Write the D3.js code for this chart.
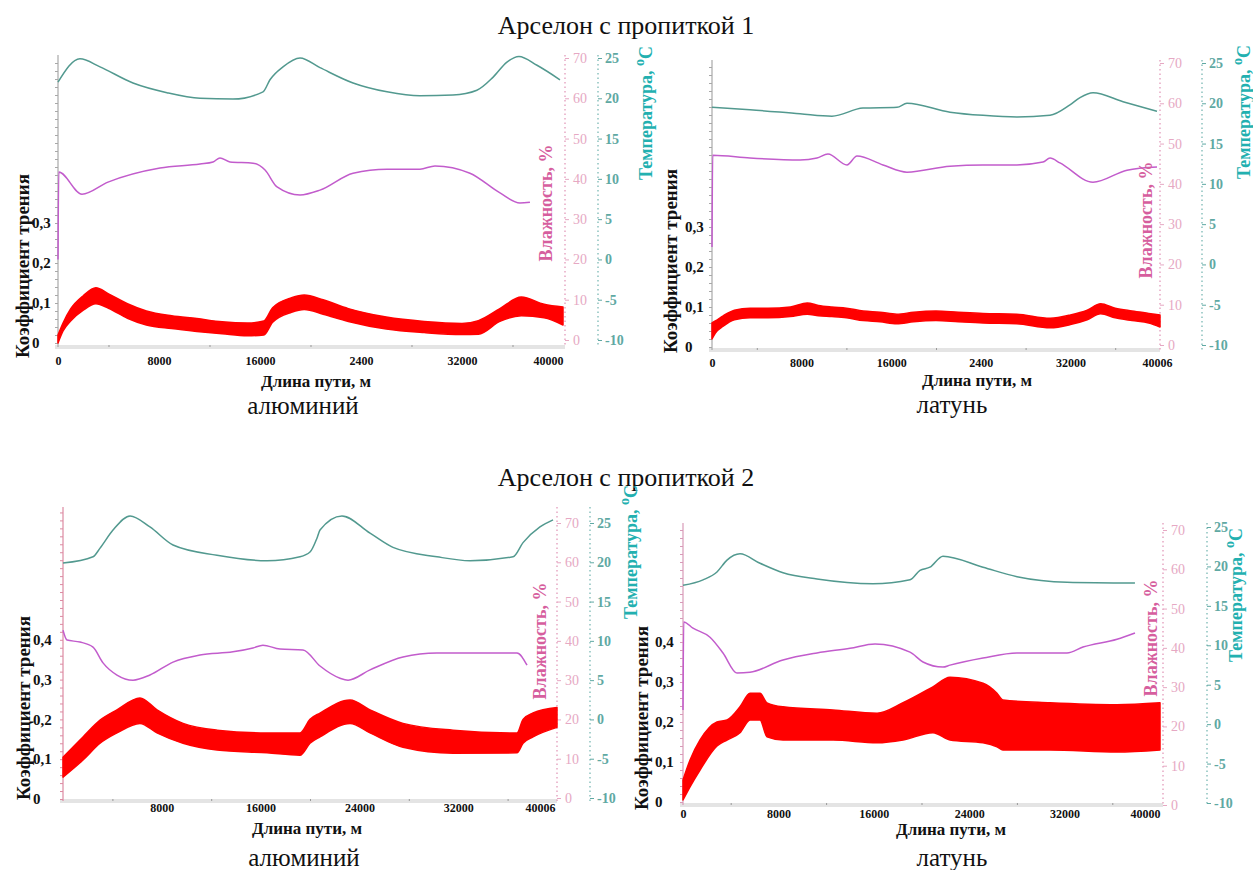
<!DOCTYPE html>
<html><head><meta charset="utf-8">
<script src="https://cdn.jsdelivr.net/npm/d3@7"></script>
<style>body{margin:0;background:#fff}svg{display:block}</style>
</head><body>
<svg id="c" width="1253" height="870"></svg>
<script>
// ---------- common ticks ----------
const distTicks = [0, 8000, 16000, 24000, 32000, 40000];
const distLabels1 = ["0", "8000", "16000", "2400", "32000", "40000"];
const distLabels2 = ["0", "8000", "16000", "2400", "32000", "40006"];
const distLabels3 = ["", "8000", "16000", "24000", "32000", "40006"];
const distLabels4 = ["0", "8000", "16000", "24000", "32000", "40000"];
const frictionTicksA = [0, 0.1, 0.2, 0.3];
const frictionTicksB = [0, 0.1, 0.2, 0.3, 0.4];
const humidityTicks = [0, 10, 20, 30, 40, 50, 60, 70];
const temperatureTicks = [-10, -5, 0, 5, 10, 15, 20, 25];

// ---------- Panel 1: пропитка 1, алюминий ----------
const a1TempDist = [0, 1740, 3330, 5940, 8630, 11250, 13860, 16240, 16790, 17820, 19170, 20750, 23370, 26060, 28670, 31280, 33180, 34450, 35560, 36510, 37940, 39760];
const a1Temp = [22.0, 24.9, 23.9, 21.9, 20.7, 20.0, 19.9, 20.8, 22.3, 23.9, 25.0, 23.8, 21.9, 20.8, 20.3, 20.4, 21.0, 22.6, 24.5, 25.2, 24.1, 22.3];
const a1HumDist = [0, 60, 1900, 3960, 8080, 11250, 12280, 12830, 13620, 15450, 16400, 17350, 19170, 20750, 23370, 26060, 28670, 29860, 32630, 35010, 36590, 37380];
const a1Hum = [20.0, 41.7, 36.2, 39.2, 42.7, 43.7, 44.2, 45.2, 44.2, 43.9, 42.2, 38.0, 36.0, 37.2, 41.4, 42.4, 42.4, 43.2, 41.4, 36.5, 34.0, 34.2];
const a1FricDist = [0, 400, 1000, 2000, 3000, 4000, 5500, 7000, 9000, 11000, 13000, 15000, 16300, 17000, 18500, 19500, 21000, 23000, 26000, 29000, 32000, 33300, 35000, 36700, 38500, 40000];
const a1FricLow = [0.0, 0.03, 0.055, 0.082, 0.098, 0.087, 0.062, 0.045, 0.036, 0.029, 0.023, 0.018, 0.02, 0.052, 0.077, 0.084, 0.072, 0.054, 0.035, 0.026, 0.021, 0.022, 0.054, 0.068, 0.063, 0.045];
const a1FricHigh = [0.02, 0.05, 0.085, 0.118, 0.138, 0.123, 0.098, 0.08, 0.068, 0.061, 0.053, 0.05, 0.055, 0.088, 0.113, 0.12, 0.108, 0.086, 0.065, 0.054, 0.049, 0.056, 0.086, 0.115, 0.097, 0.09];

// ---------- Panel 2: пропитка 1, латунь ----------
const b1TempDist = [0, 3390, 7860, 10710, 13480, 16520, 17410, 21250, 24200, 27230, 30180, 31960, 32860, 34020, 36700, 39730];
const b1Temp = [19.5, 19.2, 18.7, 18.4, 19.4, 19.5, 20.0, 18.9, 18.5, 18.3, 18.5, 19.8, 20.7, 21.3, 20.2, 19.0];
const b1HumDist = [0, 60, 3390, 7860, 9375, 10357, 12054, 12946, 15268, 17410, 21250, 24196, 27232, 29554, 30179, 31071, 34018, 37054, 39732];
const b1Hum = [24.3, 47.1, 46.4, 45.9, 46.4, 47.4, 44.7, 46.9, 44.7, 42.9, 44.4, 44.7, 44.7, 45.4, 46.4, 45.2, 40.4, 43.4, 44.2];
const b1FricDist = [0, 300, 1000, 2000, 3400, 5000, 7000, 8500, 9500, 10700, 12000, 13500, 15000, 16500, 18000, 20000, 22000, 24200, 27200, 30200, 32000, 33500, 34700, 36000, 37500, 39000, 40000];
const b1FricLow = [0.02, 0.035, 0.052, 0.068, 0.073, 0.073, 0.076, 0.082, 0.078, 0.076, 0.073, 0.066, 0.063, 0.058, 0.063, 0.066, 0.063, 0.06, 0.058, 0.048, 0.056, 0.068, 0.083, 0.073, 0.066, 0.06, 0.05];
const b1FricHigh = [0.06, 0.065, 0.078, 0.092, 0.097, 0.097, 0.1, 0.11, 0.104, 0.1, 0.097, 0.09, 0.087, 0.082, 0.087, 0.09, 0.087, 0.084, 0.082, 0.072, 0.08, 0.092, 0.108, 0.097, 0.09, 0.084, 0.08];

// ---------- Panel 3: пропитка 2, алюминий ----------
const a2TempDist = [0, 2430, 3000, 4050, 5430, 7040, 8910, 12470, 16520, 19190, 20000, 20570, 20810, 22590, 24860, 26720, 30280, 32960, 36440, 37250, 38620, 39680];
const a2Temp = [19.9, 20.7, 21.8, 24.1, 25.9, 24.5, 22.2, 20.9, 20.2, 20.7, 21.3, 23.1, 24.1, 25.9, 23.7, 21.9, 20.7, 20.2, 20.7, 22.5, 24.5, 25.4];
const a2HumDist = [0, 324, 1377, 2430, 3240, 4370, 5670, 7040, 8910, 11090, 13760, 15380, 16190, 17570, 19430, 20810, 22430, 23080, 24860, 27530, 30280, 34330, 36760, 37570];
const a2Hum = [42.7, 40.2, 39.7, 38.4, 34.4, 31.3, 30.0, 31.3, 34.6, 36.4, 37.2, 38.2, 38.9, 37.9, 37.7, 33.6, 30.5, 30.0, 32.6, 35.9, 36.9, 36.9, 36.9, 33.8];
const a2FricDist = [0, 1620, 3000, 4370, 6230, 7610, 9720, 12470, 16520, 19190, 20000, 20810, 23240, 24860, 27530, 31580, 36760, 37250, 38060, 40000];
const a2FricLow = [0.055, 0.098, 0.14, 0.166, 0.19, 0.166, 0.14, 0.123, 0.116, 0.11, 0.14, 0.156, 0.19, 0.166, 0.13, 0.115, 0.116, 0.14, 0.156, 0.18];
const a2FricHigh = [0.105, 0.156, 0.198, 0.224, 0.254, 0.224, 0.19, 0.173, 0.166, 0.166, 0.2, 0.216, 0.249, 0.224, 0.19, 0.173, 0.166, 0.2, 0.216, 0.23];

// ---------- Panel 4: пропитка 2, латунь ----------
const b2TempDist = [0, 1680, 2850, 3690, 4780, 6460, 8390, 11240, 15930, 19040, 19870, 20710, 21800, 25160, 28010, 32200, 37900];
const b2Temp = [17.6, 18.3, 19.3, 20.8, 21.6, 20.4, 19.2, 18.4, 17.8, 18.3, 19.5, 19.9, 21.3, 19.9, 18.7, 18.0, 17.9];
const b2HumDist = [0, 60, 839, 2264, 3354, 4528, 5618, 8386, 11237, 14004, 16101, 19036, 20126, 21803, 22390, 25157, 28008, 32201, 33543, 36394, 37903];
const b2Hum = [24.2, 46.6, 45.0, 42.7, 38.7, 33.6, 33.8, 36.9, 38.7, 39.9, 41.0, 38.9, 36.4, 35.1, 35.6, 37.4, 38.7, 38.7, 40.2, 42.2, 43.8];
const b2FricDist = [0, 590, 1430, 2850, 3690, 4780, 5620, 6460, 7040, 8390, 12580, 16270, 18450, 20960, 22390, 25160, 26330, 26830, 30770, 36390, 40000];
const b2FricLow = [0.005, 0.038, 0.08, 0.14, 0.155, 0.173, 0.205, 0.205, 0.163, 0.155, 0.155, 0.148, 0.155, 0.173, 0.155, 0.148, 0.138, 0.13, 0.13, 0.125, 0.13];
const b2FricHigh = [0.055, 0.105, 0.155, 0.2, 0.205, 0.238, 0.272, 0.272, 0.248, 0.238, 0.23, 0.222, 0.248, 0.288, 0.312, 0.297, 0.272, 0.255, 0.248, 0.243, 0.248];

// ---------- styles ----------
const FONT = "'Liberation Serif','Times New Roman',serif";
const C_RED = "#ff0000", C_TEAL = "#52998f", C_HUM = "#c25ccc";
const C_T_LABEL = "#5fa9a3", C_T_TITLE = "#22b0b0", C_H_LABEL = "#e6a8c3", C_H_TITLE = "#d65e9e";

const svg = d3.select("#c");

function drawPanel(p) {
  const g = svg.append("g");
  const x = d3.scaleLinear().domain([0, 40000]).range([p.left, p.right]);
  const yF = d3.scaleLinear().domain([0, 0.1]).range([p.f0, p.f0 - p.fStep]);
  const yH = d3.scaleLinear().domain([0, 70]).range([p.h0, p.h70]);
  const yT = d3.scaleLinear().domain([-10, 25]).range([p.t0, p.t25]);
  const fTop = yF.invert(p.top);

  // x axis band
  g.append("line").attr("x1", p.left - 3).attr("x2", p.hAxis).attr("y1", p.base).attr("y2", p.base)
    .attr("stroke", "#e4e4e4").attr("stroke-width", 4);
  const xm = g.append("g").attr("transform", `translate(0,${p.base - 2})`)
    .call(d3.axisBottom(x).tickValues(d3.range(4000, 40000, 8000)).tickSize(2).tickFormat(""));
  xm.select(".domain").remove();
  xm.selectAll("line").attr("stroke", "#999");
  const gx = g.append("g").attr("transform", `translate(0,${p.base})`)
    .call(d3.axisBottom(x).tickValues(distTicks).tickSize(0).tickFormat((d, i) => p.xLabels[i]))
    .attr("font-family", FONT).attr("font-size", 12);
  gx.select(".domain").remove();
  gx.selectAll("text").attr("y", p.xLabelY - p.base).attr("dy", 0)
    .attr("font-weight", "bold").attr("fill", "#111")
    .attr("text-anchor", (d, i) => i === distTicks.length - 1 ? p.lastAnchor : "middle")
    .attr("x", (d, i) => i === distTicks.length - 1 ? p.lastDx : 0);

  // left (friction) axis
  g.append("line").attr("x1", p.left).attr("x2", p.left).attr("y1", p.top).attr("y2", p.base)
    .attr("stroke", p.leftColor).attr("stroke-width", 1.2);
  const gl = g.append("g").attr("transform", `translate(${p.left},0)`)
    .call(d3.axisLeft(yF).tickValues(d3.range(0, fTop, 0.02)).tickSize(3).tickFormat(""));
  gl.select(".domain").remove();
  gl.selectAll("line").attr("stroke", p.leftColor);
  g.append("g").selectAll("text").data(p.fTicks).join("text")
    .attr("x", p.fLabelX).attr("y", d => yF(d)).attr("dy", "0.35em")
    .attr("font-family", FONT).attr("font-size", 15).attr("font-weight", "bold").attr("fill", "#111")
    .text(d => d === 0 ? "0" : d3.format(".1f")(d).replace(".", ","));

  // humidity axis
  g.append("line").attr("x1", p.hAxis).attr("x2", p.hAxis).attr("y1", p.top).attr("y2", p.base)
    .attr("stroke", C_H_LABEL).attr("stroke-width", 1.5).attr("stroke-dasharray", "1.5,3");
  const gh = g.append("g").attr("transform", `translate(${p.hAxis},0)`)
    .call(d3.axisRight(yH).tickValues(humidityTicks).tickSize(4).tickPadding(4).tickFormat(d => String(d)))
    .attr("font-family", FONT).attr("font-size", 14);
  gh.select(".domain").remove();
  gh.selectAll("line").attr("stroke", C_H_LABEL);
  gh.selectAll("text").attr("fill", C_H_LABEL);

  // temperature axis
  g.append("line").attr("x1", p.tAxis).attr("x2", p.tAxis).attr("y1", p.top).attr("y2", p.base)
    .attr("stroke", "#8cc2bf").attr("stroke-width", 1.5).attr("stroke-dasharray", "1.5,3");
  const gt = g.append("g").attr("transform", `translate(${p.tAxis},0)`)
    .call(d3.axisRight(yT).tickValues(temperatureTicks).tickSize(4).tickPadding(3).tickFormat(d => String(d)))
    .attr("font-family", FONT).attr("font-size", 14);
  gt.select(".domain").remove();
  gt.selectAll("line").attr("stroke", C_T_LABEL);
  gt.selectAll("text").attr("fill", C_T_LABEL).attr("font-weight", "bold");

  // temperature line
  g.append("path").datum(d3.zip(p.tempDist, p.temp))
    .attr("d", d3.line().x(d => x(d[0])).y(d => yT(d[1])).curve(d3.curveMonotoneX))
    .attr("fill", "none").attr("stroke", C_TEAL).attr("stroke-width", 1.5);
  // humidity line
  g.append("path").datum(d3.zip(p.humDist, p.hum))
    .attr("d", d3.line().x(d => x(d[0])).y(d => yH(d[1])).curve(d3.curveMonotoneX))
    .attr("fill", "none").attr("stroke", C_HUM).attr("stroke-width", 1.5);
  // friction band
  const fd = p.fricDist.map((d, i) => ({ d, lo: p.fricLow[i], hi: p.fricHigh[i] }));
  g.append("path").datum(fd)
    .attr("d", d3.area().x(d => x(d.d)).y0(d => yF(d.lo)).y1(d => yF(d.hi)).curve(d3.curveMonotoneX))
    .attr("fill", C_RED).attr("stroke", C_RED).attr("stroke-width", 1.5).attr("stroke-linejoin", "round");

  // axis titles
  g.append("text").attr("transform", `translate(${p.fTitle[0]},${p.fTitle[1]}) rotate(-90)`)
    .attr("text-anchor", "middle").attr("font-family", FONT).attr("font-size", 19).attr("font-weight", "bold")
    .attr("fill", "#111").text("Коэффициент трения");
  g.append("text").attr("transform", `translate(${p.hTitle[0]},${p.hTitle[1]}) rotate(-90)`)
    .attr("text-anchor", "middle").attr("font-family", FONT).attr("font-size", 18).attr("font-weight", "bold")
    .attr("fill", C_H_TITLE).text("Влажность, %");
  const tt = g.append("text").attr("transform", `translate(${p.tTitle[0]},${p.tTitle[1]}) rotate(-90)`)
    .attr("text-anchor", "middle").attr("font-family", FONT).attr("font-size", 18).attr("font-weight", "bold")
    .attr("fill", C_T_TITLE);
  tt.append("tspan").text("Температура, ");
  tt.append("tspan").attr("dy", -8).attr("font-size", 14).text("o");
  tt.append("tspan").attr("dy", 8).text("C");

  g.append("text").attr("x", p.xTitle[0]).attr("y", p.xTitle[1]).attr("text-anchor", "middle")
    .attr("font-family", FONT).attr("font-size", 17).attr("font-weight", "bold").attr("fill", "#111")
    .text("Длина пути, м");
  g.append("text").attr("x", p.sub[0]).attr("y", p.sub[1]).attr("text-anchor", "middle")
    .attr("font-family", FONT).attr("font-size", 25).attr("fill", "#111").text(p.subText);
}

// group titles
svg.append("text").attr("x", 626).attr("y", 34).attr("text-anchor", "middle")
  .attr("font-family", FONT).attr("font-size", 26).attr("fill", "#111").text("Арселон с пропиткой 1");
svg.append("text").attr("x", 626).attr("y", 486).attr("text-anchor", "middle")
  .attr("font-family", FONT).attr("font-size", 26).attr("fill", "#111").text("Арселон с пропиткой 2");

drawPanel({
  left: 58, right: 563, base: 347, top: 55, f0: 343, fStep: 40,
  h0: 340, h70: 58, t0: 340, t25: 58, hAxis: 565, tAxis: 598,
  xLabelY: 365, xLabels: distLabels1, lastAnchor: "end", lastDx: 0,
  fTicks: frictionTicksA, fLabelX: 32, leftColor: "#a8a8a8",
  fTitle: [29, 266], hTitle: [552, 203], tTitle: [652, 113], xTitle: [316, 387], sub: [303, 414], subText: "алюминий",
  tempDist: a1TempDist, temp: a1Temp, humDist: a1HumDist, hum: a1Hum,
  fricDist: a1FricDist, fricLow: a1FricLow, fricHigh: a1FricHigh
});
drawPanel({
  left: 712, right: 1160, base: 350, top: 60, f0: 347, fStep: 40,
  h0: 345, h70: 63, t0: 345, t25: 63, hAxis: 1160, tAxis: 1202,
  xLabelY: 367, xLabels: distLabels2, lastAnchor: "middle", lastDx: -3,
  fTicks: frictionTicksA, fLabelX: 685, leftColor: "#a8a8a8",
  fTitle: [677, 261], hTitle: [1152, 220], tTitle: [1250, 112], xTitle: [977, 386], sub: [952, 413], subText: "латунь",
  tempDist: b1TempDist, temp: b1Temp, humDist: b1HumDist, hum: b1Hum,
  fricDist: b1FricDist, fricLow: b1FricLow, fricHigh: b1FricHigh
});
drawPanel({
  left: 63, right: 557, base: 801, top: 507, f0: 799, fStep: 39.8,
  h0: 798, h70: 523, t0: 798, t25: 523, hAxis: 557, tAxis: 590,
  xLabelY: 812, xLabels: distLabels3, lastAnchor: "end", lastDx: -2,
  fTicks: frictionTicksB, fLabelX: 33, leftColor: "#dc8aa2",
  fTitle: [30, 708], hTitle: [546, 641], tTitle: [637, 552], xTitle: [307, 834], sub: [304, 866], subText: "алюминий",
  tempDist: a2TempDist, temp: a2Temp, humDist: a2HumDist, hum: a2Hum,
  fricDist: a2FricDist, fricLow: a2FricLow, fricHigh: a2FricHigh
});
drawPanel({
  left: 683, right: 1160, base: 805, top: 523, f0: 802, fStep: 40,
  h0: 805, h70: 530, t0: 803, t25: 527, hAxis: 1163, tAxis: 1207,
  xLabelY: 818, xLabels: distLabels4, lastAnchor: "end", lastDx: 0,
  fTicks: frictionTicksB, fLabelX: 655, leftColor: "#d89ab8",
  fTitle: [648, 718], hTitle: [1157, 638], tTitle: [1242, 595], xTitle: [951, 835], sub: [952, 866], subText: "латунь",
  tempDist: b2TempDist, temp: b2Temp, humDist: b2HumDist, hum: b2Hum,
  fricDist: b2FricDist, fricLow: b2FricLow, fricHigh: b2FricHigh
});
</script>
</body></html>
